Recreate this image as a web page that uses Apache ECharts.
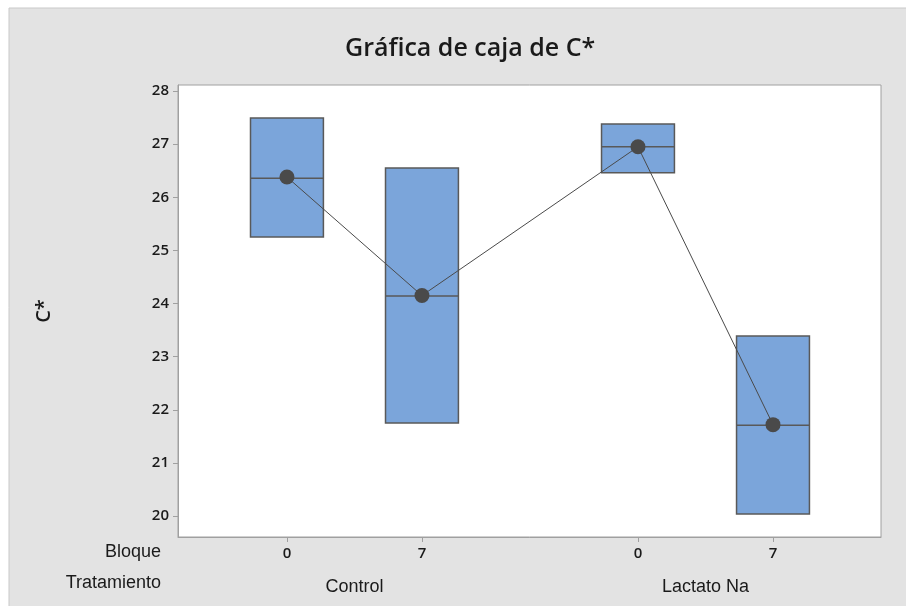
<!DOCTYPE html>
<html>
<head>
<meta charset="utf-8">
<script src="https://cdn.jsdelivr.net/npm/echarts@6/dist/echarts.min.js"></script>
<style>
html,body{margin:0;padding:0;background:#fff;}
#chart{width:906px;height:606px;}
</style>
</head>
<body>
<div id="chart"></div>
<script>
// ---- data ----
var xPos = [0, 1, 2.6, 3.6];
var bloque = ['0', '7', '0', '7'];
var tratamiento = ['Control', 'Lactato Na'];
var tratPos = [0.5, 3.1];
var q1 = [25.25, 21.75, 26.46, 20.04];
var median = [26.36, 24.14, 26.95, 21.71];
var q3 = [27.49, 26.55, 27.38, 23.39];
var mean = [26.38, 24.15, 26.95, 21.72];
var yTicks = [20, 21, 22, 23, 24, 25, 26, 27, 28];

var chart = echarts.init(document.getElementById('chart'));
var boxHalf = 0.27;
var narrow = '"Liberation Sans Narrow", "Liberation Sans", Arial, sans-serif';
var semi = '"Open Sans", "Noto Sans", sans-serif';

var boxData = xPos.map(function (x, i) { return [x, q1[i], median[i], q3[i]]; });
var meanData = xPos.map(function (x, i) { return [x, mean[i]]; });

var option = {
  backgroundColor: '#ffffff',
  animation: false,
  graphic: [
    { type: 'rect', z: -10, shape: { x: 9, y: 8, width: 900, height: 600 },
      style: { fill: '#e3e3e3', stroke: '#c9c9c9', lineWidth: 1 } },
    { type: 'text', x: 161, y: 552, z: 10,
      style: { text: 'Bloque', font: '18px ' + narrow, fill: '#1a1a1a', align: 'right', verticalAlign: 'middle' } },
    { type: 'text', x: 161, y: 583, z: 10,
      style: { text: 'Tratamiento', font: '18px ' + narrow, fill: '#1a1a1a', align: 'right', verticalAlign: 'middle' } }
  ],
  title: {
    text: 'Gráfica de caja de C*',
    left: 340,
    top: 31,
    textStyle: { fontFamily: semi, fontWeight: 600, fontSize: 25, color: '#1a1a1a' }
  },
  grid: {
    left: 178, right: 25, top: 85, bottom: 69,
    show: true, backgroundColor: '#ffffff', borderColor: '#a0a0a0', borderWidth: 1
  },
  xAxis: [
    {
      type: 'value', min: -0.807, max: 4.4, position: 'bottom',
      splitLine: { show: false },
      axisLine: { show: true, onZero: false, lineStyle: { color: '#a0a0a0' } },
      axisTick: { show: true, length: 5, customValues: xPos, lineStyle: { color: '#a0a0a0' } },
      axisLabel: {
        customValues: xPos, margin: 9,
        formatter: function (v) { var i = xPos.indexOf(v); return i >= 0 ? bloque[i] : ''; },
        fontFamily: semi, fontWeight: 600, fontSize: 15, color: '#1a1a1a'
      }
    },
    {
      type: 'value', min: -0.807, max: 4.4, position: 'bottom', offset: 31,
      splitLine: { show: false },
      axisLine: { show: false, onZero: false },
      axisTick: { show: false },
      axisLabel: {
        customValues: tratPos, margin: 10,
        formatter: function (v) { var i = tratPos.indexOf(v); return i >= 0 ? tratamiento[i] : ''; },
        fontFamily: narrow, fontSize: 18, color: '#1a1a1a'
      }
    }
  ],
  yAxis: {
    type: 'value', min: 19.605, max: 28.113,
    name: 'C*', nameLocation: 'middle', nameGap: 124, nameRotate: 90,
    nameTextStyle: { fontFamily: semi, fontWeight: 600, fontSize: 20, color: '#1a1a1a' },
    splitLine: { show: false },
    axisLine: { show: true, onZero: false, lineStyle: { color: '#a0a0a0' } },
    axisTick: { show: true, length: 5, customValues: yTicks, lineStyle: { color: '#a0a0a0' } },
    axisLabel: {
      customValues: yTicks, margin: 9,
      fontFamily: semi, fontWeight: 600, fontSize: 15, color: '#1a1a1a'
    }
  },
  series: [
    {
      type: 'custom',
      xAxisIndex: 0,
      data: boxData,
      z: 2,
      renderItem: function (params, api) {
        var x = api.value(0);
        var lo = api.coord([x - boxHalf, api.value(1)]);
        var hi = api.coord([x + boxHalf, api.value(3)]);
        var md = api.coord([x - boxHalf, api.value(2)]);
        var md2 = api.coord([x + boxHalf, api.value(2)]);
        return {
          type: 'group',
          children: [
            { type: 'rect', shape: { x: lo[0], y: hi[1], width: hi[0] - lo[0], height: lo[1] - hi[1] },
              style: { fill: '#7BA5DA', stroke: '#595959', lineWidth: 1.5 } },
            { type: 'line', shape: { x1: md[0], y1: md[1], x2: md2[0], y2: md2[1] },
              style: { stroke: '#595959', lineWidth: 1.5 } }
          ]
        };
      }
    },
    {
      type: 'line',
      xAxisIndex: 0,
      data: meanData,
      z: 5,
      symbol: 'circle',
      symbolSize: 15,
      itemStyle: { color: '#4a4a4a' },
      lineStyle: { color: '#4a4a4a', width: 1 }
    }
  ]
};
chart.setOption(option);
</script>
</body>
</html>
